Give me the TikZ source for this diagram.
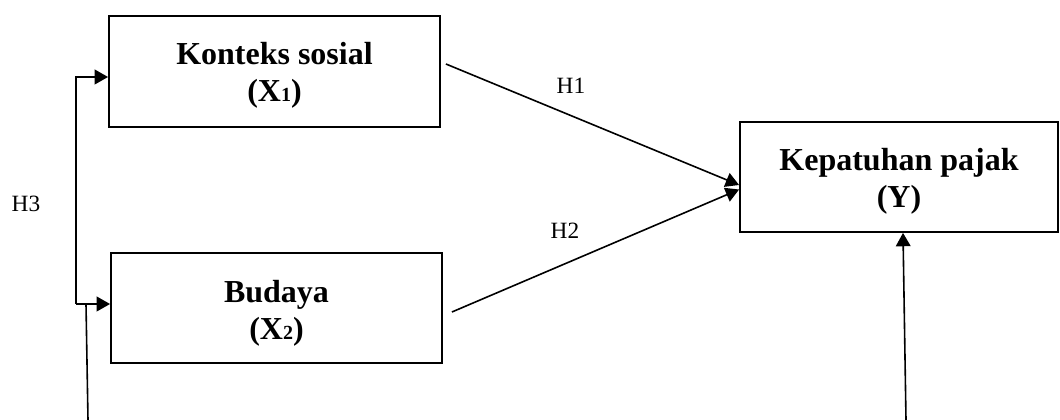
\documentclass[tikz,border=0pt]{standalone}
\usepackage{fontspec}
\setmainfont{Liberation Serif}
\usetikzlibrary{arrows.meta,calc}
\begin{document}
\begin{tikzpicture}[x=0.75pt,y=-0.75pt,
  varbox/.style={draw=black,line width=1.4pt,inner sep=0pt},
  vartext/.style={inner sep=0pt,align=center,
    font=\fontsize{24}{27.5}\selectfont\bfseries},
  conn/.style={line width=1.2pt,draw=black},
  arr/.style={conn,-{Triangle[length=10pt,width=11pt]}},
  hlabel/.style={font=\fontsize{17.5}{20}\selectfont,inner sep=0pt}]
\useasboundingbox (0,0) rectangle (1060,420);
\node[varbox,minimum width=248.25pt,minimum height=83.25pt] (kon) at (274.5,71.5) {};
\node[varbox,minimum width=248.25pt,minimum height=82.5pt] (bud) at (276.5,308) {};
\node[varbox,minimum width=238.5pt,minimum height=82.5pt] (kep) at (899,177) {};
\node[vartext] (kont) at ($(kon.center)+(0,4)$)
  {Konteks sosial\\(X{\fontsize{15}{15}\selectfont 1})};
\node[vartext] (budt) at ($(bud.center)+(0,5)$)
  {Budaya\\(X{\fontsize{15}{15}\selectfont 2})};
\node[vartext] (kept) at ($(kep.center)+(0,4)$)
  {Kepatuhan pajak\\(Y)};
\node[hlabel] (h1) at (571,86) {H1};
\node[hlabel] (h2) at (565,231) {H2};
\node[hlabel] (h3) at (26,204) {H3};
% H1 and H2
\draw[arr] ($(kon.east)+(5,-7.5)$) -- ($(kep.west)+(0,8)$);
\draw[arr] ($(bud.east)+(9,4)$) -- ($(kep.west)+(0,12.5)$);
% H3 bracket
\coordinate (b1) at (76,77);
\coordinate (b2) at (76,304);
\draw[arr] (b2) -- (b1) -- (kon.west |- b1);
\draw[arr] (b2) -- (bud.west |- b2);
\coordinate (c1) at (88,420);
\coordinate (c2) at (86,304);
\draw[conn] (c1) -- (c2);
% to Y
\coordinate (d1) at (906,420);
\draw[arr] (d1) -- ($(kep.south)+(4,0)$);
\end{tikzpicture}
\end{document}
